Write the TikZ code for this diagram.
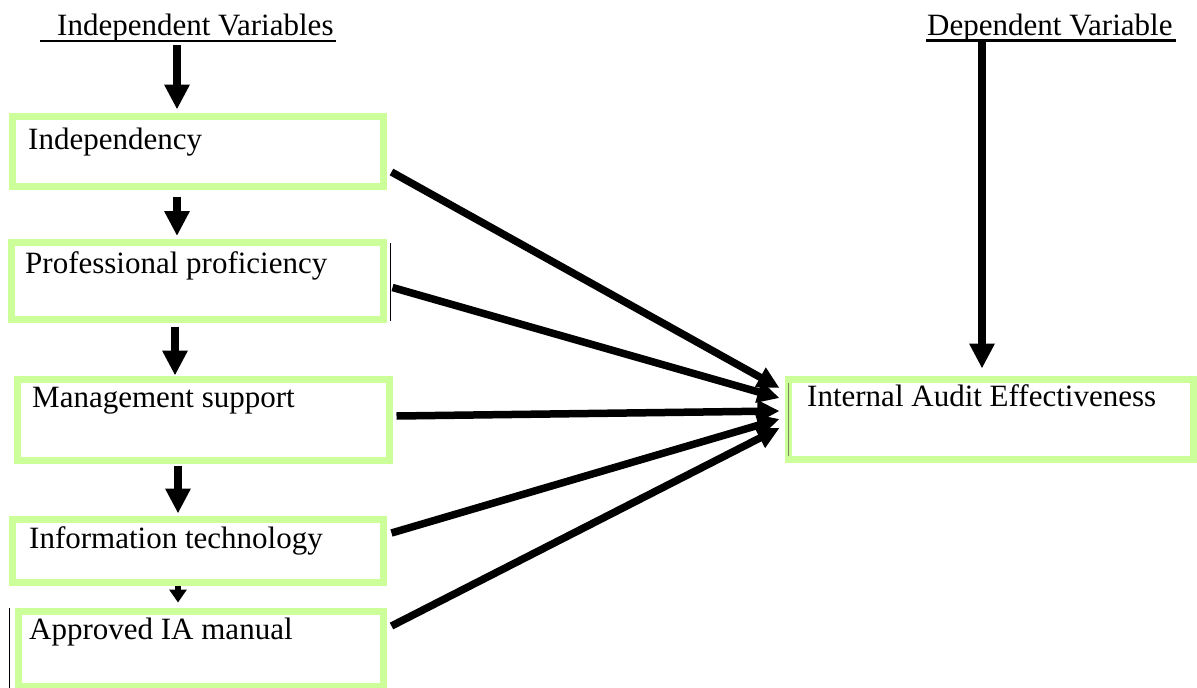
\documentclass[tikz,border=0pt]{standalone}
\usepackage{fontspec}
\setmainfont{Liberation Serif}
\usetikzlibrary{arrows.meta,calc}
\definecolor{boxgreen}{HTML}{CCFF99}
\definecolor{edgeline}{HTML}{7A8A5A}
\tikzset{
  box/.style={draw=boxgreen, line width=7pt, inner sep=0pt, fill=none},
  lbl/.style={anchor=base west, inner sep=0pt, font=\fontsize{31pt}{37pt}\selectfont},
  bigarrow/.style={line width=7.5pt, -{Triangle[length=25pt,width=24pt]}},
  smallarrow/.style={line width=6pt, -{Triangle[length=13pt,width=17pt]}},
  diagarrow/.style={line width=7.5pt, -{Triangle[length=22pt,width=21pt]}},
  uline/.style={line width=2.5pt},
  thinline/.style={line width=1pt}
}
\begin{document}
\begin{tikzpicture}[x=1pt,y=-1pt]
\useasboundingbox (0,0) rectangle (1197,688);
% boxes
\node[box, minimum width=371pt, minimum height=70pt] (ind) at (198,151.5) {};
\node[box, minimum width=372pt, minimum height=77pt] (prof) at (197.5,281) {};
\node[box, minimum width=372pt, minimum height=81pt] (mgmt) at (203.5,420) {};
\node[box, minimum width=371pt, minimum height=63pt] (it) at (198,551) {};
\node[box, minimum width=365pt, minimum height=75pt] (appr) at (201,649) {};
\node[box, minimum width=405pt, minimum height=80pt] (iae) at (991,419.5) {};
% thin edge lines
\draw[thinline] ([shift={(3.5,-38)}]prof.east) -- ([shift={(3.5,40)}]prof.east);
\draw[thinline] ([shift={(-5.5,-41)}]appr.west) -- ([shift={(-5.5,40)}]appr.west);
\draw[thinline, edgeline] ([shift={(3.5,-36.5)}]iae.west) -- ([shift={(3.5,36.5)}]iae.west);
% texts
\node[lbl] (tind) at (28,149) {Independency};
\node[lbl] (tprof) at (25,273) {Professional proficiency};
\node[lbl] (tmgmt) at (32,407) {Management support};
\node[lbl] (tit) at (29,548) {Information technology};
\node[lbl] (tappr) at (29,639) {Approved IA manual};
\node[lbl] (tiae) at (807,406) {Internal Audit Effectiveness};
% headings
\node[lbl] (hind) at (57,35) {Independent Variables};
\node[lbl] (hdep) at (927,35) {Dependent Variable};
\draw[uline] ([shift={(-17,6)}]hind.base west) -- ([shift={(2,6)}]hind.base east);
\draw[uline] ([shift={(-1,5.5)}]hdep.base west) -- ([shift={(3,5.5)}]hdep.base east);
% vertical arrows
\draw[bigarrow] ([shift={(120,10)}]hind.base west) -- ([shift={(-21,-3.5)}]ind.north);
\draw[bigarrow] ([shift={(-21,6.5)}]ind.south) -- ([shift={(-20.5,-3)}]prof.north);
\draw[bigarrow] ([shift={(-22.5,3.5)}]prof.south) -- ([shift={(-28.5,-0.5)}]mgmt.north);
\draw[bigarrow] ([shift={(-25.5,1.5)}]mgmt.south) -- ([shift={(-20,-2.5)}]it.north);
\draw[smallarrow] ([shift={(-20,0)}]it.south) -- ([shift={(-23,-5.5)}]appr.north);
\draw[bigarrow] ([shift={(55,5)}]hdep.base west) -- ([shift={(-9,-7.5)}]iae.north);
% converging arrows
\draw[diagarrow] ([shift={(4.5,20.5)}]ind.east) -- ([shift={(-5.5,-31.5)}]iae.west);
\draw[diagarrow] ([shift={(5.5,6.5)}]prof.east) -- ([shift={(-5.5,-21.5)}]iae.west);
\draw[diagarrow] ([shift={(3.5,-4)}]mgmt.east) -- ([shift={(-5.5,-8.5)}]iae.west);
\draw[diagarrow] ([shift={(4.5,-18)}]it.east) -- ([shift={(-5.5,-0.5)}]iae.west);
\draw[diagarrow] ([shift={(4.5,-23)}]appr.east) -- ([shift={(-5.5,8.5)}]iae.west);
\end{tikzpicture}
\end{document}
